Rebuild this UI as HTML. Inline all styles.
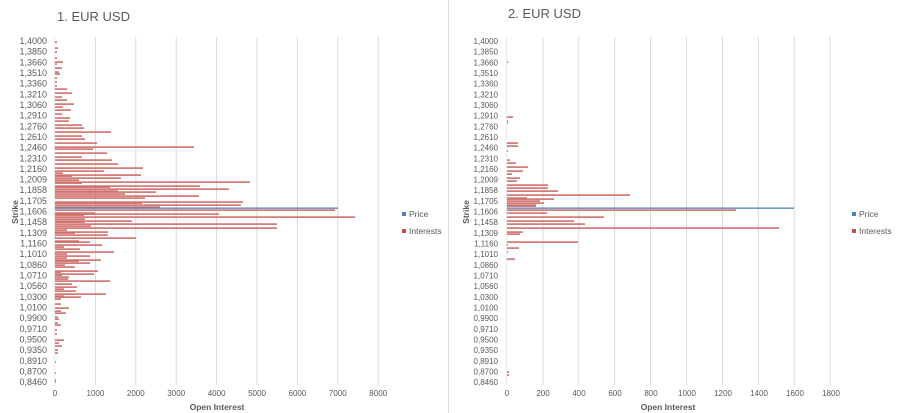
<!DOCTYPE html>
<html><head><meta charset="utf-8"><style>
html,body{margin:0;padding:0;background:#fff;}
svg{display:block;font-family:"Liberation Sans",sans-serif;}
</style></head><body>
<svg id="s" width="900" height="413" viewBox="0 0 900 413" xmlns="http://www.w3.org/2000/svg">
<rect width="900" height="413" fill="#fff"/>
<line x1="448.5" y1="0" x2="448.5" y2="413" stroke="#d9d9d9"/>
<g id="grid"></g>
<g id="bars"></g>
<text x="57" y="21" font-size="13" fill="#595959">1. EUR USD</text>
<text x="508" y="18" font-size="13" fill="#595959">2. EUR USD</text>
<g font-size="9" fill="#595959" text-anchor="end">
<text x="47" y="44">1,4000</text><text x="47" y="54.7">1,3850</text><text x="47" y="65.3">1,3660</text><text x="47" y="76">1,3510</text><text x="47" y="86.6">1,3360</text><text x="47" y="97.3">1,3210</text><text x="47" y="108">1,3060</text><text x="47" y="118.6">1,2910</text><text x="47" y="129.3">1,2760</text><text x="47" y="139.9">1,2610</text><text x="47" y="150.6">1,2460</text><text x="47" y="161.3">1,2310</text><text x="47" y="171.9">1,2160</text><text x="47" y="182.6">1,2009</text><text x="47" y="193.2">1,1858</text><text x="47" y="203.9">1,1705</text><text x="47" y="214.6">1,1606</text><text x="47" y="225.2">1,1458</text><text x="47" y="235.9">1,1309</text><text x="47" y="246.5">1,1160</text><text x="47" y="257.2">1,1010</text><text x="47" y="267.9">1,0860</text><text x="47" y="278.5">1,0710</text><text x="47" y="289.2">1,0560</text><text x="47" y="299.8">1,0300</text><text x="47" y="310.5">1,0100</text><text x="47" y="321.2">0,9900</text><text x="47" y="331.8">0,9710</text><text x="47" y="342.5">0,9500</text><text x="47" y="353.1">0,9350</text><text x="47" y="363.8">0,8910</text><text x="47" y="374.5">0,8700</text><text x="47" y="385.1">0,8460</text>
</g>
<g font-size="8" fill="#595959" text-anchor="end">
<text x="498" y="44">1,4000</text><text x="498" y="54.7">1,3850</text><text x="498" y="65.3">1,3660</text><text x="498" y="76">1,3510</text><text x="498" y="86.6">1,3360</text><text x="498" y="97.3">1,3210</text><text x="498" y="108">1,3060</text><text x="498" y="118.6">1,2910</text><text x="498" y="129.3">1,2760</text><text x="498" y="139.9">1,2610</text><text x="498" y="150.6">1,2460</text><text x="498" y="161.3">1,2310</text><text x="498" y="171.9">1,2160</text><text x="498" y="182.6">1,2009</text><text x="498" y="193.2">1,1858</text><text x="498" y="203.9">1,1705</text><text x="498" y="214.6">1,1606</text><text x="498" y="225.2">1,1458</text><text x="498" y="235.9">1,1309</text><text x="498" y="246.5">1,1160</text><text x="498" y="257.2">1,1010</text><text x="498" y="267.9">1,0860</text><text x="498" y="278.5">1,0710</text><text x="498" y="289.2">1,0560</text><text x="498" y="299.8">1,0300</text><text x="498" y="310.5">1,0100</text><text x="498" y="321.2">0,9900</text><text x="498" y="331.8">0,9710</text><text x="498" y="342.5">0,9500</text><text x="498" y="353.1">0,9350</text><text x="498" y="363.8">0,8910</text><text x="498" y="374.5">0,8700</text><text x="498" y="385.1">0,8460</text>
</g>
<g font-size="8" fill="#595959" text-anchor="middle">
<text x="55" y="396">0</text><text x="95.4" y="396">1000</text><text x="135.8" y="396">2000</text><text x="176.2" y="396">3000</text><text x="216.6" y="396">4000</text><text x="257" y="396">5000</text><text x="297.4" y="396">6000</text><text x="337.8" y="396">7000</text><text x="378.2" y="396">8000</text>
<text x="507" y="396">0</text><text x="543" y="396">200</text><text x="579" y="396">400</text><text x="615" y="396">600</text><text x="651" y="396">800</text><text x="687" y="396">1000</text><text x="723" y="396">1200</text><text x="759" y="396">1400</text><text x="795" y="396">1600</text><text x="831" y="396">1800</text>
</g>
<g font-size="8.5" font-weight="bold" fill="#595959" text-anchor="middle">
<text x="217" y="410">Open Interest</text>
<text x="668" y="410">Open Interest</text>
<text transform="translate(18,212) rotate(-90)">Strike</text>
<text transform="translate(469,212) rotate(-90)">Strike</text>
</g>
<g font-size="8.5" fill="#595959">
<rect x="402" y="212" width="4" height="4" fill="#4f81bd"/><text x="409" y="217">Price</text>
<rect x="402" y="229" width="4" height="4" fill="#c0504d"/><text x="409" y="234">Interests</text>
<rect x="852" y="212" width="4" height="4" fill="#4f81bd"/><text x="859" y="217">Price</text>
<rect x="852" y="229" width="4" height="4" fill="#c0504d"/><text x="859" y="234">Interests</text>
</g>
</svg>
<script>
var ns="http://www.w3.org/2000/svg";
function r(g,x,y,w,h,f){var e=document.createElementNS(ns,"rect");e.setAttribute("x",x);e.setAttribute("y",y);e.setAttribute("width",Math.max(w,0.6));e.setAttribute("height",h);e.setAttribute("fill",f);g.appendChild(e);}
var G=document.getElementById("grid"),B=document.getElementById("bars");
for(var i=1;i<=8;i++)r(G,55+i*40.4-0.5,37,1,348,"#d9d9d9");
for(var i=1;i<=9;i++)r(G,507+i*35.9-0.5,37,1,348,"#d9d9d9");
r(G,54.5,37,0.6,348,"#d9d9d9");r(G,506.5,37,0.6,348,"#d9d9d9");
var L=[[42,57],[48,58],[52,57],[58,57],[62,63],[64,57],[68,62],[72,59],[74,60],[78,57],[82,57],[86,57],[89,67],[93,72],[97,62],[100,67],[104,74],[107,63],[110,71],[114,62],[118,70],[121,69],[125,82],[128,84],[132,111],[136,82],[139,85],[143,97],[147,194],[149,93],[153,107],[157,82],[160,112],[164,118],[168,143],[171,104],[173,63],[175,141],[176,72],[178,121],[180,79],[182,250],[183,82],[186,200],[187,110],[189,229],[191,118],[192,156],[194,125],[196,199],[198,145],[202,243],[203,142],[205,241],[207,160],[210,335],[213,95],[214,219],[215,84],[217,355],[219,85],[221,132],[222,85],[224,277],[226,91],[228,277],[230,67],[232,108],[233,75],[235,108],[237,55],[238,136],[241,79],[242,90],[245,102],[247,64],[249,80],[252,114],[254,67],[256,90],[258,67],[260,101],[261,79],[263,90],[265,65],[267,75],[271,98],[272,61],[274,94],[275,62],[277,69],[279,68],[281,110],[284,72],[287,77],[289,64],[291,76],[294,106],[296,64],[297,81],[299,61],[304,61],[308,69],[311,61],[313,66],[317,58],[319,59],[323,58],[325,61],[330,57],[334,57],[340,64],[343,59],[346,62],[350,58],[353,58],[362,56],[373,56],[380,56],[382,56]];
L.forEach(function(b){r(B,55,b[0]-0.7,b[1]-55,1.6,"#d0706d");});
r(B,55,207.5,283,1.3,"#4f81bd");
var R=[[62,508],[117,513],[121,508],[123,508],[143,518],[146,518],[151,508],[160,510],[163,516],[167,528],[171,523],[174,512],[178,520],[181,517],[185,548],[188,548],[191,558],[195,630],[198,527],[199,554],[201,540],[203,544],[205,536],[206,536],[210,736],[213,547],[217,604],[221,574],[224,585],[228,779],[232,523],[234,520],[242,578],[245,508],[248,519],[252,508],[259,515],[372,509],[375,509]];
R.forEach(function(b){r(B,507,b[0]-0.7,b[1]-507,1.6,"#d0706d");});
r(B,507,207.5,287,1.3,"#4f81bd");
</script>
</body></html>
